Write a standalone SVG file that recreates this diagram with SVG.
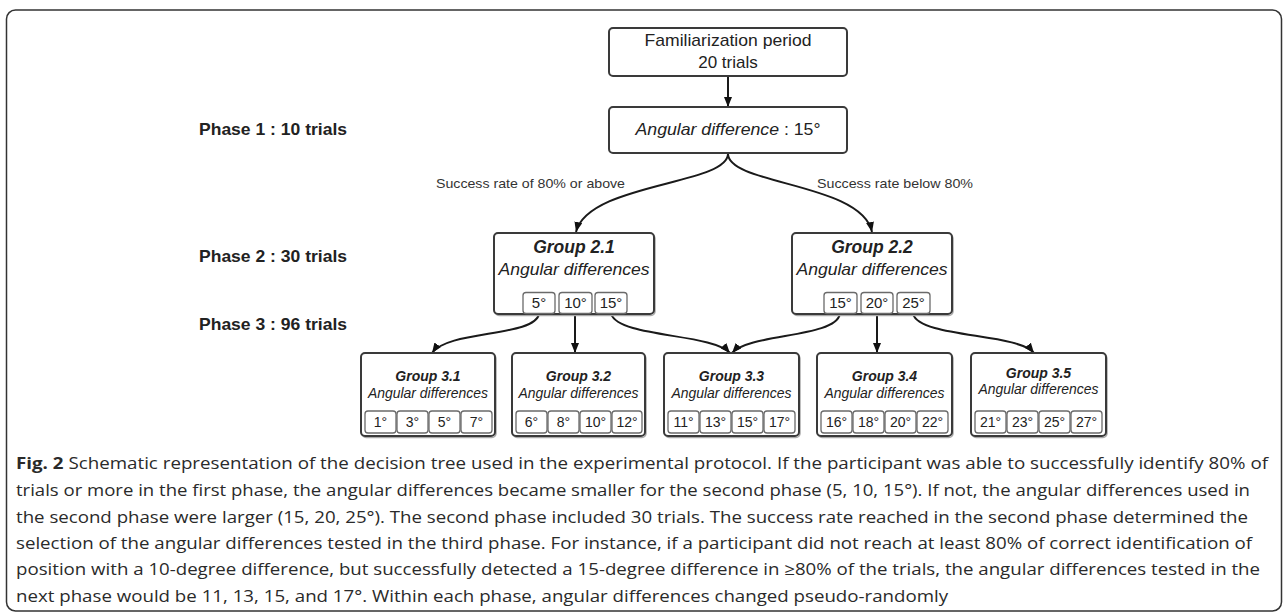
<svg xmlns="http://www.w3.org/2000/svg" width="1287" height="615" viewBox="0 0 1287 615">
<style>
.frame{fill:#fff;stroke:#333;stroke-width:1.5}
.box{fill:#fff;stroke:#3a3a3a;stroke-width:2}
.shadow{fill:none;stroke:#aaa;stroke-width:1.5}
.sbox{fill:#fff;stroke:#6a6a6a;stroke-width:1.3}
.conn{fill:none;stroke:#1a1a1a;stroke-width:2}
.t{font-family:"Liberation Sans",Arial,sans-serif;fill:#222}
.phase{font-weight:bold;font-size:17px}
.lab{font-size:13.5px;fill:#333}
.cap{font-family:"Open Sans","Noto Sans",sans-serif;font-size:16.5px;fill:#2a2a2a}
</style>
<defs>
<marker id="ah" viewBox="0 0 10 8" refX="10" refY="4" markerWidth="10" markerHeight="8" markerUnits="userSpaceOnUse" orient="auto">
<path d="M0,0 L10,4 L0,8 z" fill="#111"/>
</marker>
</defs>
<rect class="frame" x="6.5" y="10" width="1275" height="601" rx="9"/>

<g id="phase-labels">
<text class="t phase" x="199" y="135" textLength="148" lengthAdjust="spacingAndGlyphs">Phase 1 : 10 trials</text>
<text class="t phase" x="199" y="262" textLength="148" lengthAdjust="spacingAndGlyphs">Phase 2 : 30 trials</text>
<text class="t phase" x="199" y="330" textLength="148" lengthAdjust="spacingAndGlyphs">Phase 3 : 96 trials</text>
</g>

<g id="connectors">
<path class="conn" d="M728,76 L728,107" marker-end="url(#ah)"/>
<path class="conn" d="M728,154 C727,185 588,183 576,232" marker-end="url(#ah)"/>
<path class="conn" d="M728,154 C729,185 862,183 872,232" marker-end="url(#ah)"/>
<path class="conn" d="M539,314 C535,337 448,330 432,353" marker-end="url(#ah)"/>
<path class="conn" d="M575,314 L575,353" marker-end="url(#ah)"/>
<path class="conn" d="M611,314 C620,338 712,333 730,353" marker-end="url(#ah)"/>
<path class="conn" d="M840,314 C835,338 750,333 732,353" marker-end="url(#ah)"/>
<path class="conn" d="M877,314 L877,353" marker-end="url(#ah)"/>
<path class="conn" d="M913,314 C920,338 1018,333 1034,353" marker-end="url(#ah)"/>
<text class="t lab" x="436" y="188" textLength="189" lengthAdjust="spacingAndGlyphs">Success rate of 80% or above</text>
<text class="t lab" x="817" y="188" textLength="156" lengthAdjust="spacingAndGlyphs">Success rate below 80%</text>
</g>

<g id="familiarization">
<rect class="box" x="609" y="28" width="238" height="48" rx="4"/>
<text class="t" x="728" y="46" font-size="17" text-anchor="middle" textLength="167" lengthAdjust="spacingAndGlyphs">Familiarization period</text>
<text class="t" x="728" y="68" font-size="17" text-anchor="middle">20 trials</text>
</g>

<g id="phase1">
<rect class="box" x="609" y="107" width="238" height="46" rx="4"/>
<text class="t" x="728" y="135" font-size="17" text-anchor="middle" textLength="185" lengthAdjust="spacingAndGlyphs"><tspan font-style="italic">Angular difference</tspan> : 15°</text>
</g>

<g id="group-2-1">
<rect class="shadow" x="495" y="234.5" width="160" height="81" rx="4"/>
<rect class="box" x="494" y="233" width="160" height="81" rx="4"/>
<text class="t" x="574" y="253" font-size="17.5" font-weight="bold" font-style="italic" text-anchor="middle">Group 2.1</text>
<text class="t" x="574" y="275" font-size="17" font-style="italic" text-anchor="middle" textLength="151" lengthAdjust="spacingAndGlyphs">Angular differences</text>
<rect class="sbox" x="523" y="292.5" width="32" height="21" rx="3"/>
<rect class="sbox" x="559" y="292.5" width="33" height="21" rx="3"/>
<rect class="sbox" x="595" y="292.5" width="32" height="21" rx="3"/>
<text class="t" font-size="15" text-anchor="middle" y="308"><tspan x="539">5°</tspan><tspan x="575.5">10°</tspan><tspan x="611">15°</tspan></text>
</g>

<g id="group-2-2">
<rect class="shadow" x="793" y="234.5" width="160" height="81" rx="4"/>
<rect class="box" x="792" y="233" width="160" height="81" rx="4"/>
<text class="t" x="872" y="253" font-size="17.5" font-weight="bold" font-style="italic" text-anchor="middle">Group 2.2</text>
<text class="t" x="872" y="275" font-size="17" font-style="italic" text-anchor="middle" textLength="151" lengthAdjust="spacingAndGlyphs">Angular differences</text>
<rect class="sbox" x="824" y="292.5" width="33" height="21" rx="3"/>
<rect class="sbox" x="861" y="292.5" width="32" height="21" rx="3"/>
<rect class="sbox" x="897" y="292.5" width="33" height="21" rx="3"/>
<text class="t" font-size="15" text-anchor="middle" y="308"><tspan x="840.5">15°</tspan><tspan x="877">20°</tspan><tspan x="913.5">25°</tspan></text>
</g>

<g id="group-3-1">
<rect class="shadow" x="362" y="354.5" width="134" height="83" rx="4"/>
<rect class="box" x="361" y="353" width="134" height="83" rx="4"/>
<text class="t" x="428" y="381" font-size="14" font-weight="bold" font-style="italic" text-anchor="middle">Group 3.1</text>
<text class="t" x="428" y="398" font-size="14" font-style="italic" text-anchor="middle" textLength="120" lengthAdjust="spacingAndGlyphs">Angular differences</text>
<rect class="sbox" x="365" y="411" width="31" height="22" rx="3"/>
<rect class="sbox" x="397" y="411" width="31" height="22" rx="3"/>
<rect class="sbox" x="429" y="411" width="31" height="22" rx="3"/>
<rect class="sbox" x="461" y="411" width="31" height="22" rx="3"/>
<text class="t" font-size="14" text-anchor="middle" y="427"><tspan x="380.5">1°</tspan><tspan x="412.5">3°</tspan><tspan x="444.5">5°</tspan><tspan x="476.5">7°</tspan></text>
</g>

<g id="group-3-2">
<rect class="shadow" x="513" y="354.5" width="133" height="83" rx="4"/>
<rect class="box" x="512" y="353" width="133" height="83" rx="4"/>
<text class="t" x="578.5" y="381" font-size="14" font-weight="bold" font-style="italic" text-anchor="middle">Group 3.2</text>
<text class="t" x="578.5" y="398" font-size="14" font-style="italic" text-anchor="middle" textLength="120" lengthAdjust="spacingAndGlyphs">Angular differences</text>
<rect class="sbox" x="516" y="411" width="31" height="22" rx="3"/>
<rect class="sbox" x="548" y="411" width="31" height="22" rx="3"/>
<rect class="sbox" x="580" y="411" width="31" height="22" rx="3"/>
<rect class="sbox" x="612" y="411" width="30" height="22" rx="3"/>
<text class="t" font-size="14" text-anchor="middle" y="427"><tspan x="531.5">6°</tspan><tspan x="563.5">8°</tspan><tspan x="595.5">10°</tspan><tspan x="627">12°</tspan></text>
</g>

<g id="group-3-3">
<rect class="shadow" x="665" y="354.5" width="135" height="83" rx="4"/>
<rect class="box" x="664" y="353" width="135" height="83" rx="4"/>
<text class="t" x="731.5" y="381" font-size="14" font-weight="bold" font-style="italic" text-anchor="middle">Group 3.3</text>
<text class="t" x="731.5" y="398" font-size="14" font-style="italic" text-anchor="middle" textLength="120" lengthAdjust="spacingAndGlyphs">Angular differences</text>
<rect class="sbox" x="668" y="411" width="31" height="22" rx="3"/>
<rect class="sbox" x="700" y="411" width="31" height="22" rx="3"/>
<rect class="sbox" x="732" y="411" width="31" height="22" rx="3"/>
<rect class="sbox" x="764" y="411" width="31" height="22" rx="3"/>
<text class="t" font-size="14" text-anchor="middle" y="427"><tspan x="683.5">11°</tspan><tspan x="715.5">13°</tspan><tspan x="747.5">15°</tspan><tspan x="779.5">17°</tspan></text>
</g>

<g id="group-3-4">
<rect class="shadow" x="818" y="354.5" width="135" height="83" rx="4"/>
<rect class="box" x="817" y="353" width="135" height="83" rx="4"/>
<text class="t" x="884.5" y="381" font-size="14" font-weight="bold" font-style="italic" text-anchor="middle">Group 3.4</text>
<text class="t" x="884.5" y="398" font-size="14" font-style="italic" text-anchor="middle" textLength="120" lengthAdjust="spacingAndGlyphs">Angular differences</text>
<rect class="sbox" x="821" y="411" width="31" height="22" rx="3"/>
<rect class="sbox" x="853" y="411" width="31" height="22" rx="3"/>
<rect class="sbox" x="885" y="411" width="31" height="22" rx="3"/>
<rect class="sbox" x="917" y="411" width="31" height="22" rx="3"/>
<text class="t" font-size="14" text-anchor="middle" y="427"><tspan x="836.5">16°</tspan><tspan x="868.5">18°</tspan><tspan x="900.5">20°</tspan><tspan x="932.5">22°</tspan></text>
</g>

<g id="group-3-5">
<rect class="shadow" x="972" y="354.5" width="135" height="83" rx="4"/>
<rect class="box" x="971" y="353" width="135" height="83" rx="4"/>
<text class="t" x="1038.5" y="378" font-size="14" font-weight="bold" font-style="italic" text-anchor="middle">Group 3.5</text>
<text class="t" x="1038.5" y="394" font-size="14" font-style="italic" text-anchor="middle" textLength="120" lengthAdjust="spacingAndGlyphs">Angular differences</text>
<rect class="sbox" x="975" y="411" width="31" height="22" rx="3"/>
<rect class="sbox" x="1007" y="411" width="31" height="22" rx="3"/>
<rect class="sbox" x="1039" y="411" width="31" height="22" rx="3"/>
<rect class="sbox" x="1071" y="411" width="31" height="22" rx="3"/>
<text class="t" font-size="14" text-anchor="middle" y="427"><tspan x="990.5">21°</tspan><tspan x="1022.5">23°</tspan><tspan x="1054.5">25°</tspan><tspan x="1086.5">27°</tspan></text>
</g>

<g id="caption">
<text class="cap" x="16" y="469" textLength="1252" lengthAdjust="spacingAndGlyphs"><tspan font-weight="bold">Fig. 2</tspan> Schematic representation of the decision tree used in the experimental protocol. If the participant was able to successfully identify 80% of</text>
<text class="cap" x="16" y="496" textLength="1234" lengthAdjust="spacingAndGlyphs">trials or more in the first phase, the angular differences became smaller for the second phase (5, 10, 15°). If not, the angular differences used in</text>
<text class="cap" x="16" y="523" textLength="1232" lengthAdjust="spacingAndGlyphs">the second phase were larger (15, 20, 25°). The second phase included 30 trials. The success rate reached in the second phase determined the</text>
<text class="cap" x="16" y="549" textLength="1236" lengthAdjust="spacingAndGlyphs">selection of the angular differences tested in the third phase. For instance, if a participant did not reach at least 80% of correct identification of</text>
<text class="cap" x="16" y="575" textLength="1244" lengthAdjust="spacingAndGlyphs">position with a 10-degree difference, but successfully detected a 15-degree difference in ≥80% of the trials, the angular differences tested in the</text>
<text class="cap" x="16" y="602" textLength="932" lengthAdjust="spacingAndGlyphs">next phase would be 11, 13, 15, and 17°. Within each phase, angular differences changed pseudo-randomly</text>
</g>
</svg>
